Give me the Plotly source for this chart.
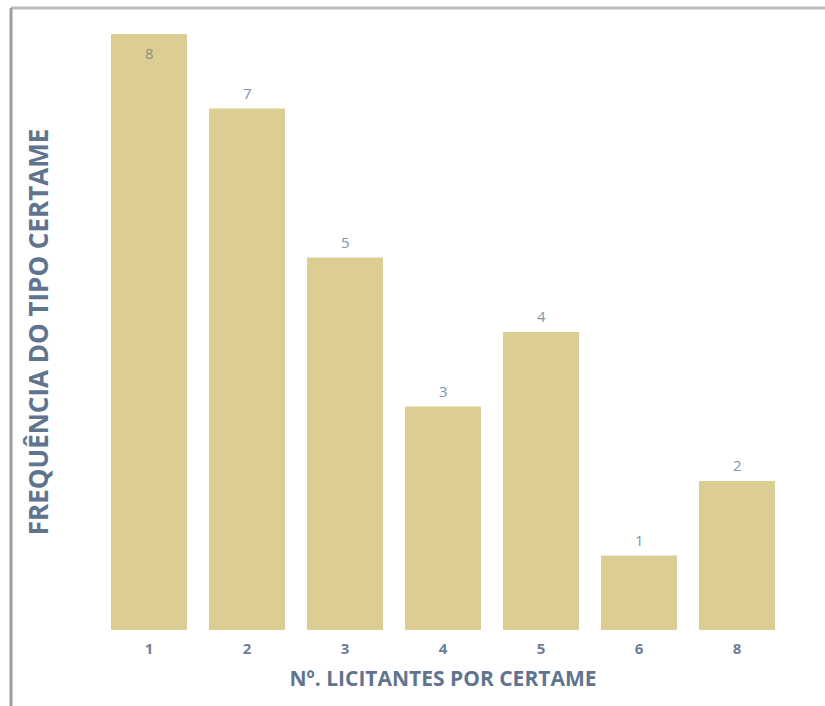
import plotly.graph_objects as go

categories = ["1", "2", "3", "4", "5", "6", "8"]
values = [8, 7, 5, 3, 4, 1, 2]
label_shift = [-19, 16, 16, 16, 16, 16, 16]

W, H = 825, 706
L, R, T, B = 100, 39, 34, 76
pw, ph = W - L - R, H - T - B

def px_x(x):
    return (x - L) / pw

def px_y(y):
    return (H - B - y) / ph

label_color = "#8393AA"
tick_color = "#6E7E96"
title_color = "#60748F"

fig = go.Figure(
    go.Bar(
        x=categories,
        y=values,
        marker=dict(color="#DCCD92", line=dict(width=0)),
        cliponaxis=False,
        hoverinfo="x+y",
    )
)

annotations = []
for i, (v, s) in enumerate(zip(values, label_shift)):
    annotations.append(dict(
        x=i, y=v, xref="x", yref="y", text=str(v), showarrow=False,
        yshift=s,
        font=dict(family="Open Sans", size=15,
                  color="#8C8E86" if s < 0 else label_color),
    ))

fig.update_layout(
    width=W,
    height=H,
    margin=dict(l=L, r=R, t=T, b=B),
    paper_bgcolor="white",
    plot_bgcolor="white",
    bargap=0.225,
    showlegend=False,
    font=dict(family="Open Sans"),
    annotations=annotations,
    xaxis=dict(
        type="category",
        categoryorder="array",
        categoryarray=categories,
        range=[-0.5, len(categories) - 0.5],
        showgrid=False,
        zeroline=False,
        showline=False,
        ticks="",
        ticklabelstandoff=8,
        tickfont=dict(family="Open Sans", size=15, color=tick_color, weight="bold"),
        title=dict(
            text="Nº. LICITANTES POR CERTAME",
            font=dict(family="Open Sans", size=21, color=title_color, weight="bold"),
            standoff=14,
        ),
    ),
    yaxis=dict(
        range=[0, 8],
        showgrid=False,
        zeroline=False,
        showline=False,
        showticklabels=False,
        ticks="",
        title=dict(
            text="FREQUÊNCIA DO TIPO CERTAME",
            font=dict(family="Open Sans", size=26, color=title_color, weight="bold"),
            standoff=42,
        ),
    ),
    shapes=[
        dict(type="line", xref="paper", yref="paper",
             x0=px_x(11), x1=px_x(830), y0=px_y(8), y1=px_y(8),
             line=dict(color="#BDBDBD", width=3)),
        dict(type="line", xref="paper", yref="paper",
             x0=px_x(11), x1=px_x(11), y0=px_y(8), y1=px_y(710),
             line=dict(color="#9E9E9E", width=3)),
    ],
)

fig.write_html("out.html")
